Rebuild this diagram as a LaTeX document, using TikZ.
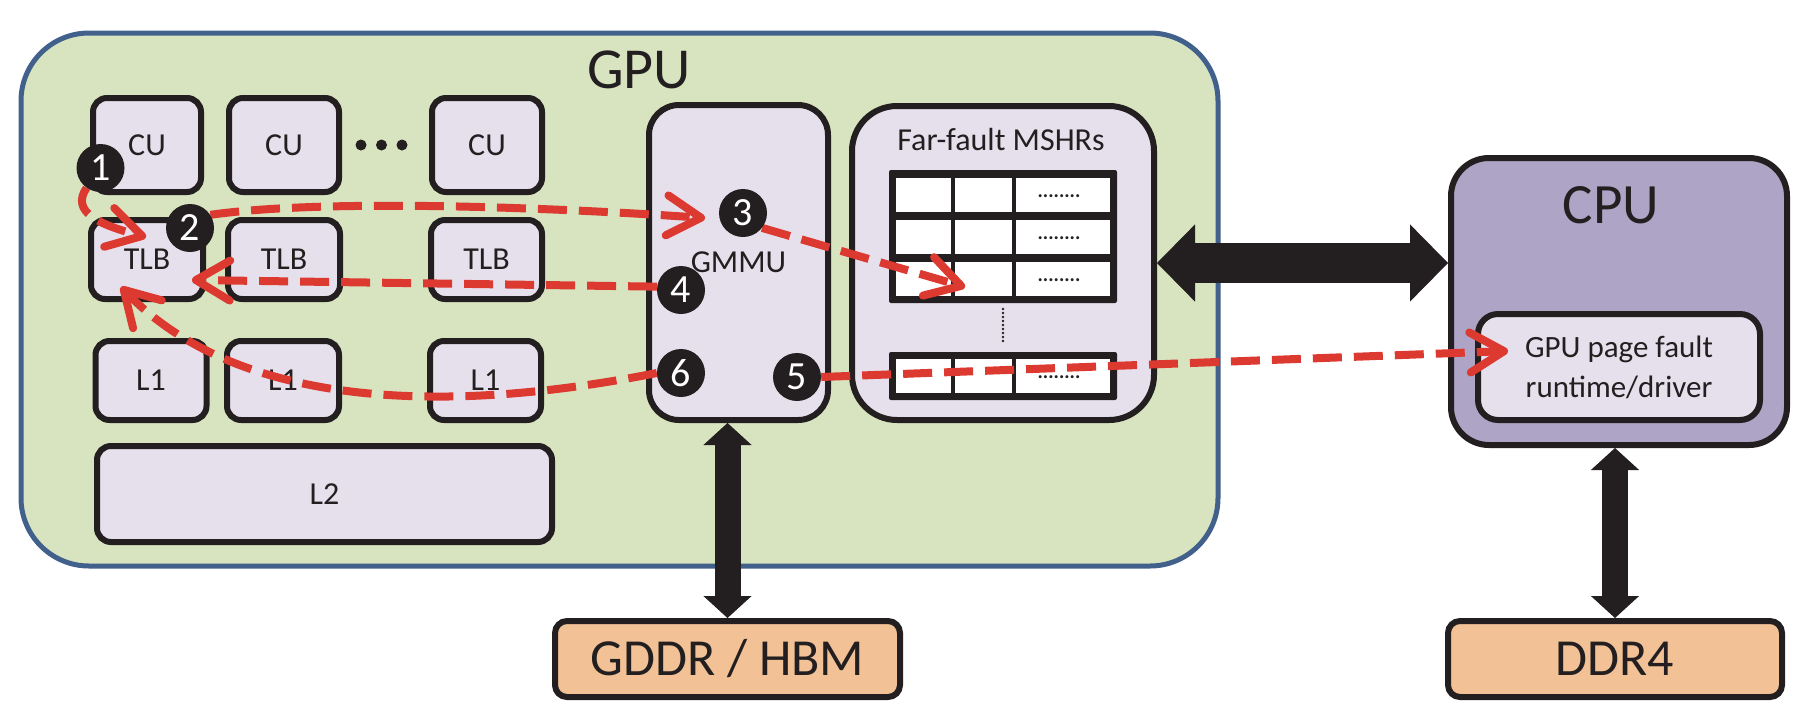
\documentclass[tikz,border=0pt]{standalone}
\usepackage{fontspec}
\setmainfont{Carlito}
\usetikzlibrary{arrows.meta}
\pgfdeclarelayer{back}
\pgfdeclarelayer{mid}
\pgfsetlayers{back,mid,main}
\definecolor{gpufill}{HTML}{D8E4BF}
\definecolor{gpuline}{HTML}{41608C}
\definecolor{boxfill}{HTML}{E6E0EC}
\definecolor{ink}{HTML}{231F20}
\definecolor{cpufill}{HTML}{AEA4C6}
\definecolor{memfill}{HTML}{F2C196}
\definecolor{flowred}{HTML}{DC3A31}
\begin{document}
\begin{tikzpicture}[x=1pt,y=-1pt,
  unit/.style={draw=ink, fill=boxfill, line width=6pt, rounded corners=14pt, inner sep=0pt,
    text=ink, font=\fontsize{32}{38}\selectfont},
  memunit/.style={unit, fill=memfill, rounded corners=12pt, font=\fontsize{52}{60}\selectfont},
  title/.style={anchor=base, text=ink, inner sep=0pt},
  num/.style={circle, fill=ink, text=white, minimum size=48pt, inner sep=0pt,
    font=\fontsize{40}{40}\selectfont},
  flow/.style={draw=flowred, line width=8pt, dash pattern=on 29pt off 12pt,
    -{Straight Barb[length=34pt,width=40pt,round]}},
  hbus/.style={draw=ink, line width=40pt,
    {Triangle[length=38pt,width=77pt,line width=1pt]}-{Triangle[length=38pt,width=77pt,line width=1pt]}},
  vbus/.style={draw=ink, line width=26pt,
    {Triangle[length=22pt,width=48pt,line width=1pt]}-{Triangle[length=22pt,width=48pt,line width=1pt]}},
  celldots/.style={anchor=base, inner sep=0pt, text=ink, font=\fontsize{20}{20}\selectfont\bfseries}
]
\useasboundingbox (0,0) rectangle (1816,724);

\begin{pgfonlayer}{back}
% GPU container
\node[draw=gpuline, fill=gpufill, line width=5pt, rounded corners=68pt,
      minimum width=1197pt, minimum height=533pt, inner sep=0pt] (gpu) at (619.5,299.5) {};
\node[title, font=\fontsize{58}{64}\selectfont] (gputitle) at (639,88) {GPU};

% CUs
\node[unit, minimum width=108pt, minimum height=94pt] (cu1) at (147,145) {CU};
\node[unit, minimum width=110pt, minimum height=94pt] (cu2) at (284,145) {CU};
\node[unit, minimum width=110pt, minimum height=94pt] (cu3) at (487,145) {CU};
\fill[ink] (361,145) circle (5.5pt) (381.5,145) circle (5.5pt) (402,145) circle (5.5pt);

% TLBs
\node[unit, minimum width=112pt, minimum height=79pt] (tlb1) at (147,259.5) {TLB};
\node[unit, minimum width=112pt, minimum height=79pt] (tlb2) at (284,259.5) {TLB};
\node[unit, minimum width=111pt, minimum height=79pt] (tlb3) at (486.5,259.5) {TLB};

% L1s
\node[unit, minimum width=111pt, minimum height=79pt] (l1a) at (151,380.5) {L1};
\node[unit, minimum width=112pt, minimum height=79pt] (l1b) at (283,380.5) {L1};
\node[unit, minimum width=111pt, minimum height=79pt] (l1c) at (485.5,380.5) {L1};

% L2
\node[unit, minimum width=455pt, minimum height=96pt] (l2) at (324.5,494) {L2};

% GMMU
\node[unit, rounded corners=30pt, minimum width=179pt, minimum height=315pt] (gmmu) at (738.5,262.5) {GMMU};

% Far-fault MSHRs
\node[unit, rounded corners=45pt, minimum width=302pt, minimum height=314pt] (mshr) at (1003,263) {};
\node[title, font=\fontsize{32}{38}\selectfont] (mshrtitle) at (1001,150) {Far-fault MSHRs};

% MSHR table (top block of three rows)
\fill[ink, rounded corners=2pt] (889,170) rectangle (1117,303);
\foreach \ya/\yb in {178/212, 220/254, 262/296}{
  \fill[white] (896,\ya) rectangle (951,\yb);
  \fill[white] (955,\ya) rectangle (1012,\yb);
  \fill[white] (1016,\ya) rectangle (1110,\yb);
}
\node[celldots] (dr1) at (1059,197) {........};
\node[celldots] (dr2) at (1059,239) {........};
\node[celldots] (dr3) at (1059,281) {........};
% vertical ellipsis
\draw[ink, line width=2.6pt, line cap=round, dash pattern=on 0pt off 4pt] (1003,309) -- (1003,341);
% bottom row
\fill[ink, rounded corners=2pt] (889,352) rectangle (1117,400);
\fill[white] (896,359) rectangle (951,393);
\fill[white] (955,359) rectangle (1012,393);
\fill[white] (1016,359) rectangle (1110,393);
\node[celldots] (dr4) at (1059,378) {........};

% CPU
\node[unit, fill=cpufill, rounded corners=38pt, minimum width=336pt, minimum height=287pt] (cpu) at (1619,301.5) {};
\node[title, font=\fontsize{57}{64}\selectfont] (cputitle) at (1611,223) {CPU};
\node[unit, rounded corners=20pt, minimum width=282pt, minimum height=106pt, align=center,
      font=\fontsize{31}{40}\selectfont] (rt) at (1619,367) {GPU page fault\\runtime/driver};

% Memories
\node[memunit, minimum width=345pt, minimum height=76pt] (gddr) at (727.5,659) {GDDR / HBM};
\node[memunit, minimum width=334pt, minimum height=76pt] (ddr) at (1615,659) {DDR4};

% Buses
\draw[hbus] (mshr.east) -- (mshr.east -| cpu.west);
\draw[vbus] (gddr.north) -- (gddr.north |- gmmu.south);
\draw[vbus] (ddr.north) -- (ddr.north |- cpu.south);
\end{pgfonlayer}

% numbered markers
\node[num] (n1) at (100.5,168) {1};
\node[num] (n2) at (190,228) {2};
\node[num] (n3) at (743,213) {3};
\node[num] (n4) at (681,290) {4};
\node[num] (n6) at (681,373) {6};
\node[num] (n5) at (797,377) {5};

% arrow targets
\coordinate (tA) at (146,237);
\coordinate (tB) at (705,218);
\coordinate (tC) at (965,287);
\coordinate (tD) at (192,280);
\coordinate (tE) at (121,287);
\coordinate (tF) at (1508,351);

\begin{pgfonlayer}{mid}
\draw[flow] (n1.235) .. controls (70,212) and (100,225) .. (tA);
\draw[flow] (n2.33) .. controls (330,198) and (560,208) .. (tB);
\draw[flow] (n3.322) -- (tC);
\draw[flow] (n4.172) -- (tD);
\draw[flow] (n6.180) .. controls (480,408) and (250,420) .. (tE);
\draw[flow] (n5.east) -- (tF);
\end{pgfonlayer}
\end{tikzpicture}
\end{document}
